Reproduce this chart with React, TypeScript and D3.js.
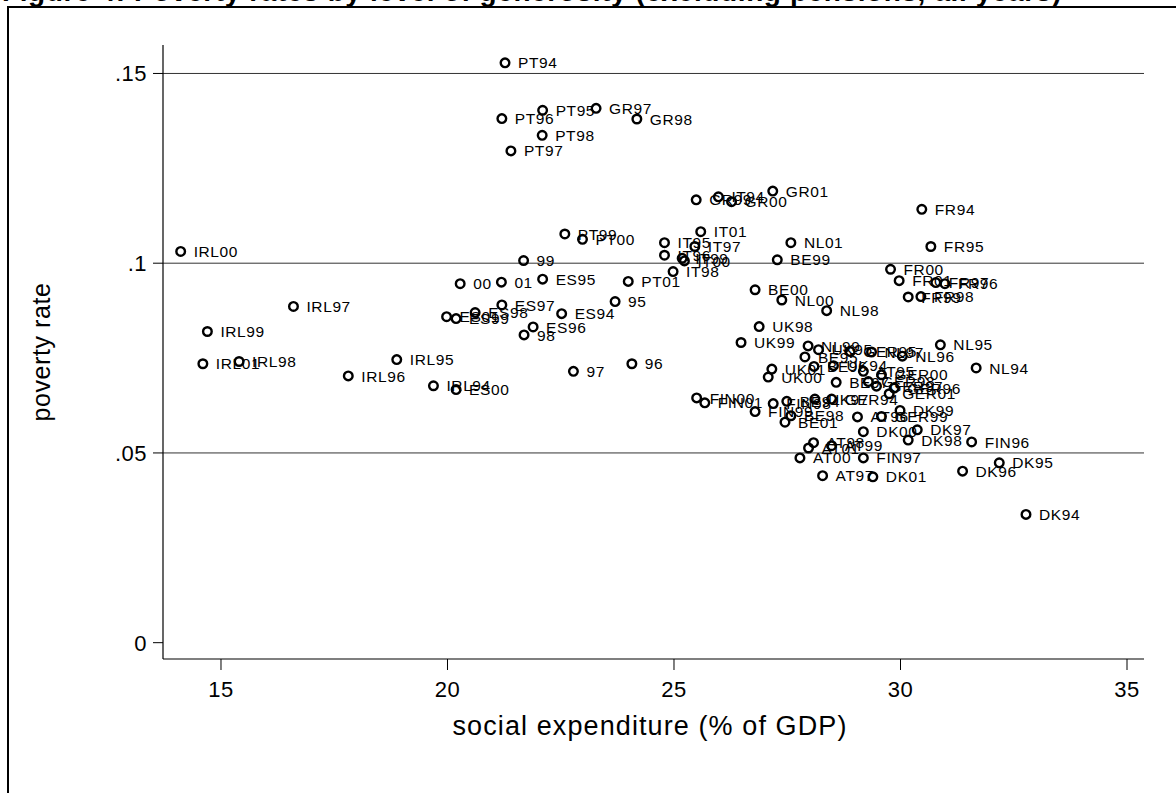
import React from "react";
import * as d3 from "d3";

// country-year labels, social expenditure (% of GDP) and poverty rate
const pointLabels = [
  "IRL94", "IRL95", "IRL96", "IRL97", "IRL98", "IRL99", "IRL00", "IRL01",
  "PT94", "PT95", "PT96", "PT97", "PT98", "PT99", "PT00", "PT01",
  "GR97", "GR98", "GR99", "GR00", "GR01",
  "95", "96", "97", "98", "99", "00", "01",
  "ES94", "ES95", "ES96", "ES97", "ES98", "ES99", "ES00", "ES01",
  "IT94", "IT95", "IT96", "IT97", "IT98", "IT99", "IT00", "IT01",
  "FR94", "FR95", "FR96", "FR97", "FR98", "FR99", "FR00", "FR01",
  "NL94", "NL95", "NL96", "NL97", "NL98", "NL99", "NL00", "NL01",
  "BE94", "BE95", "BE96", "BE97", "BE98", "BE99", "BE00", "BE01",
  "UK94", "UK95", "UK97", "UK98", "UK99", "UK00", "UK01",
  "GER94", "GER95", "GER96", "GER97", "GER98", "GER99", "GER00", "GER01",
  "AT95", "AT96", "AT97", "AT98", "AT99", "AT00", "AT01",
  "DK94", "DK95", "DK96", "DK97", "DK98", "DK99", "DK00", "DK01",
  "FIN96", "FIN97", "FIN98", "FIN99", "FIN00", "FIN01",
];

const socialExpenditure = [
  19.69, 18.88, 17.81, 16.6, 15.4, 14.7, 14.11, 14.6,
  21.27, 22.1, 21.2, 21.4, 22.09, 22.59, 22.98, 23.99,
  23.28, 24.18, 25.49, 26.27, 27.18,
  23.7, 24.07, 22.78, 21.69, 21.68, 20.28, 21.19,
  22.52, 22.1, 21.89, 21.2, 20.61, 20.19, 20.19, 19.98,
  25.98, 24.79, 24.79, 25.46, 24.98, 25.18, 25.23, 25.59,
  30.47, 30.67, 30.98, 30.78, 30.45, 30.17, 29.78, 29.97,
  31.67, 30.88, 30.04, 29.36, 28.37, 27.96, 27.38, 27.58,
  27.49, 27.89, 28.09, 28.58, 27.58, 27.28, 26.79, 27.45,
  28.52, 28.19, 28.11, 26.88, 26.48, 27.08, 27.16,
  28.48, 28.89, 29.86, 29.47, 29.29, 29.58, 29.58, 29.75,
  29.18, 29.05, 28.28, 28.08, 28.48, 27.78, 27.97,
  32.77, 32.18, 31.37, 30.37, 30.17, 29.99, 29.18, 29.39,
  31.57, 29.18, 27.19, 26.79, 25.5, 25.68,
];

const povertyRate = [
  0.0677, 0.0746, 0.0703, 0.0886, 0.0741, 0.082, 0.1031, 0.0735,
  0.1528, 0.1403, 0.1381, 0.1296, 0.1337, 0.1077, 0.1063, 0.0952,
  0.1408, 0.138, 0.1167, 0.1162, 0.119,
  0.0899, 0.0735, 0.0715, 0.0811, 0.1007, 0.0946, 0.095,
  0.0867, 0.0958, 0.0832, 0.089, 0.087, 0.0854, 0.0667, 0.0859,
  0.1175, 0.1054, 0.1021, 0.1044, 0.0978, 0.1013, 0.1006, 0.1083,
  0.1142, 0.1044, 0.0946, 0.0949, 0.0912, 0.0911, 0.0984, 0.0954,
  0.0724, 0.0785, 0.0755, 0.0766, 0.0875, 0.0782, 0.0903, 0.1054,
  0.0636, 0.0753, 0.0728, 0.0686, 0.0598, 0.1009, 0.093, 0.0581,
  0.073, 0.0772, 0.0642, 0.0833, 0.0791, 0.07, 0.0721,
  0.0642, 0.0767, 0.0671, 0.0676, 0.0688, 0.0596, 0.0706, 0.0656,
  0.0715, 0.0595, 0.044, 0.0527, 0.0519, 0.0487, 0.0513,
  0.0338, 0.0474, 0.0452, 0.0561, 0.0534, 0.0612, 0.0556, 0.0437,
  0.0529, 0.0487, 0.063, 0.0609, 0.0645, 0.0632,
];

const xTicks = [15, 20, 25, 30, 35];
const yTicks = [0, 0.05, 0.1, 0.15];
const yTickLabels = ["0", ".05", ".1", ".15"];
const gridValues = [0.05, 0.1, 0.15];

const titleText =
  "Figure 4: Poverty rates by level of generosity (excluding pensions, all years)";

const W = 1176;
const H = 793;
const font = "'Liberation Sans', Arial, Helvetica, sans-serif";

const App = () => {
  const left = 163;
  const right = 1144;
  const top = 45;
  const bottom = 659;

  const x = d3.scaleLinear().domain([13.72, 35.375]).range([left, right]);
  const y = d3.scaleLinear().domain([-0.0043, 0.1575]).range([bottom, top]);

  const points = pointLabels.map((label, i) => ({
    label,
    sx: socialExpenditure[i],
    pr: povertyRate[i],
  }));

  return (
    <svg
      width={W}
      height={H}
      style={{ position: "absolute", left: 0, top: 0, background: "white" }}
      fontFamily={font}
    >
      <rect x={0} y={0} width={W} height={H} fill="white" />
      {/* title, mostly cut off above the page */}
      <text x={2} y={1} fontSize={28} fontWeight="bold" fill="#000" letterSpacing={0.6}>
        {titleText}
      </text>
      {/* outer frame */}
      <rect x={8} y={7} width={W + 20} height={H + 20} fill="none" stroke="#000" strokeWidth={2} />

      {/* grid lines */}
      {gridValues.map((v) => (
        <line key={v} x1={left} x2={right} y1={y(v)} y2={y(v)} stroke="#333" strokeWidth={1} />
      ))}

      {/* axes */}
      <line x1={left} x2={left} y1={top} y2={bottom} stroke="#000" strokeWidth={1.2} />
      <line x1={left} x2={right} y1={bottom} y2={bottom} stroke="#000" strokeWidth={1.2} />

      {yTicks.map((v, i) => (
        <g key={v}>
          <line x1={left - 10} x2={left} y1={y(v)} y2={y(v)} stroke="#000" strokeWidth={1} />
          <text
            x={left - 16}
            y={y(v)}
            dy="0.36em"
            textAnchor="end"
            fontSize={22}
            letterSpacing={0.5}
            fill="#000"
          >
            {yTickLabels[i]}
          </text>
        </g>
      ))}

      {xTicks.map((v) => (
        <g key={v}>
          <line x1={x(v)} x2={x(v)} y1={bottom} y2={bottom + 11} stroke="#000" strokeWidth={1} />
          <text
            x={x(v)}
            y={bottom + 30}
            dy="0.36em"
            textAnchor="middle"
            fontSize={22}
            letterSpacing={0.5}
            fill="#000"
          >
            {v}
          </text>
        </g>
      ))}

      <text
        x={650}
        y={725}
        dy="0.36em"
        textAnchor="middle"
        fontSize={27}
        letterSpacing={1.1}
        fill="#000"
      >
        social expenditure (% of GDP)
      </text>
      <text
        transform={`translate(41,${(top + bottom) / 2}) rotate(-90)`}
        textAnchor="middle"
        dy="0.36em"
        fontSize={25}
        letterSpacing={0.6}
        fill="#000"
      >
        poverty rate
      </text>

      {/* markers and labels */}
      {points.map((p) => (
        <g key={p.label} transform={`translate(${x(p.sx)},${y(p.pr)})`}>
          <circle r={4.3} fill="none" stroke="#000" strokeWidth={2.4} />
          <text x={13} dy="0.36em" fontSize={15.5} letterSpacing={0.6} fill="#000">
            {p.label}
          </text>
        </g>
      ))}
    </svg>
  );
};

export default App;
